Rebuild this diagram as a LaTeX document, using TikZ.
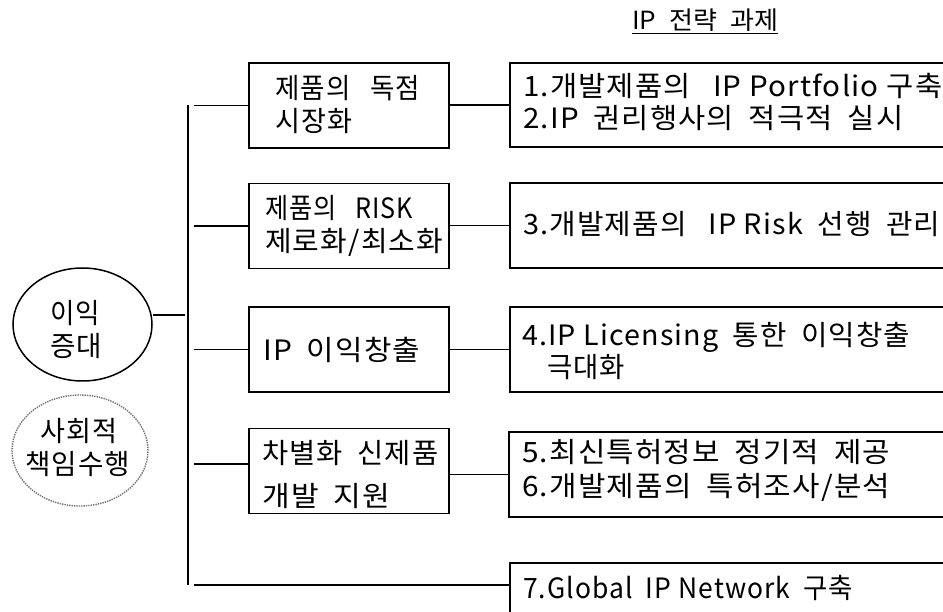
\documentclass[tikz,border=0pt]{standalone}
\usepackage{fontspec}
\usepackage{graphicx}
\usetikzlibrary{shapes.geometric}
\newfontfamily\kr[LetterSpace=4]{Noto Sans CJK KR}
\newfontfamily\krt{Noto Sans CJK KR}
\newcommand\fitto[2]{\resizebox{#1pt}{\height}{#2}}
\newcommand\gap{\hspace{0.5em}}
\newcommand\wgap{\hspace{0.75em}}
\begin{document}
\begin{tikzpicture}[x=1pt,y=-1pt,
  box/.style={draw, line width=1.5pt, rectangle, inner sep=0pt, minimum width=200pt, minimum height=85pt},
  rbox/.style={draw, line width=1.5pt, rectangle, inner sep=0pt, minimum width=440pt},
  txt/.style={anchor=west, inner sep=0pt, text height=21pt, text depth=1pt, font=\kr\fontsize{28}{28}\selectfont},
  link/.style={line width=1.5pt}]
\useasboundingbox (0,0) rectangle (943,612);
\clip (0,0) rectangle (943,612);

% title
\node[anchor=west, inner sep=0pt, text height=19pt, text depth=1pt, font=\krt\fontsize{25}{25}\selectfont] (title) at (632,21) {\underline{\fitto{146}{IP\gap 전략\gap 과제}}};

% ellipses
\node[ellipse, draw, line width=1.5pt, minimum width=139pt, minimum height=113pt, inner sep=0pt] (e1) at (82.5,324.5) {};
\node[ellipse, draw=black!55, densely dotted, line width=1.4pt, minimum width=136pt, minimum height=111pt, inner sep=0pt] (e2) at (80,450.5) {};

% left boxes
\node[box] (b1) at (349,105.5) {};
\node[box] (b2) at (349,226) {};
\node[box] (b3) at (349,349.5) {};
\node[box] (b4) at (349,471) {};

% right boxes
\node[rbox, minimum height=84pt] (r1) at (730,105) {};
\node[rbox, minimum height=85pt] (r2) at (730,225.5) {};
\node[rbox, minimum height=85pt] (r3) at (730,349.5) {};
\node[rbox, minimum height=85pt] (r4) at (729,474.5) {};
\node[rbox, minimum height=57pt] (r5) at (730,591.5) {};

% trunk and connectors
\coordinate (tt) at (188,105);
\coordinate (tb) at (188,585);
\coordinate (bx) at (194,0);
\coordinate (ej) at (185,315);
\coordinate (j4) at (194,464);
\coordinate (j5) at (194,585);
\draw[link] (tt) -- (tb);
\draw[link] (ej -| e1.east) -- (ej);
\draw[link] (bx |- b1.west) -- (b1.west);
\draw[link] (bx |- b2.west) -- (b2.west);
\draw[link] (bx |- b3.west) -- (b3.west);
\draw[link] (j4) -- (j4 -| b4.west);
\draw[link] (j5) -- (j5 -| r5.west);
\draw[link] (b1.east |- r1.west) -- (r1.west);
\draw[link] (b2.east |- r2.west) -- (r2.west);
\draw[link] (b3.east |- r3.west) -- (r3.west);
\draw[link] (b4.east |- r4.west) -- (r4.west);

% right texts
\node[txt] (t1) at (523,87) {\fitto{419}{1.개발제품의\wgap IP Portfolio 구축}};
\node[txt] (t2) at (523,119) {\fitto{380}{2.IP\gap 권리행사의\gap 적극적\gap 실시}};
\node[txt] (t3) at (523,225) {\fitto{417}{3.개발제품의\wgap IP Risk\gap 선행\gap 관리}};
\node[txt] (t4) at (522,336) {\fitto{388}{4.IP Licensing\gap 통한\gap 이익창출}};
\node[txt] (t4b) at (547,368) {\fitto{78}{극대화}};
\node[txt] (t5) at (522,453) {\fitto{368}{5.최신특허정보\gap 정기적\gap 제공}};
\node[txt] (t6) at (522,486) {\fitto{368}{6.개발제품의\gap 특허조사/분석}};
\node[txt] (t7) at (523,588) {\fitto{330}{7.Global\gap IP Network\gap 구축}};

% left texts
\node[txt] (s1a) at (275,89) {\fitto{145}{제품의\wgap 독점}};
\node[txt] (s1b) at (275,122) {\fitto{77}{시장화}};
\node[txt] (s2a) at (265,209) {\fitto{148}{제품의\wgap RISK}};
\node[txt] (s2b) at (265,242) {\fitto{178}{제로화/최소화}};
\node[txt] (s3) at (263,350) {\fitto{157}{IP\gap 이익창출}};
\node[txt] (s4a) at (262,454) {\fitto{176}{차별화\gap 신제품}};
\node[txt] (s4b) at (262,496) {\fitto{128}{개발\gap 지원}};

% ellipse texts
\node[txt] (e1a) at (50,314) {\fitto{50}{이익}};
\node[txt] (e1b) at (50,347) {\fitto{52}{증대}};
\node[txt] (e2a) at (40,432) {\fitto{77}{사회적}};
\node[txt] (e2b) at (25,464) {\fitto{105}{책임수행}};
\end{tikzpicture}
\end{document}
